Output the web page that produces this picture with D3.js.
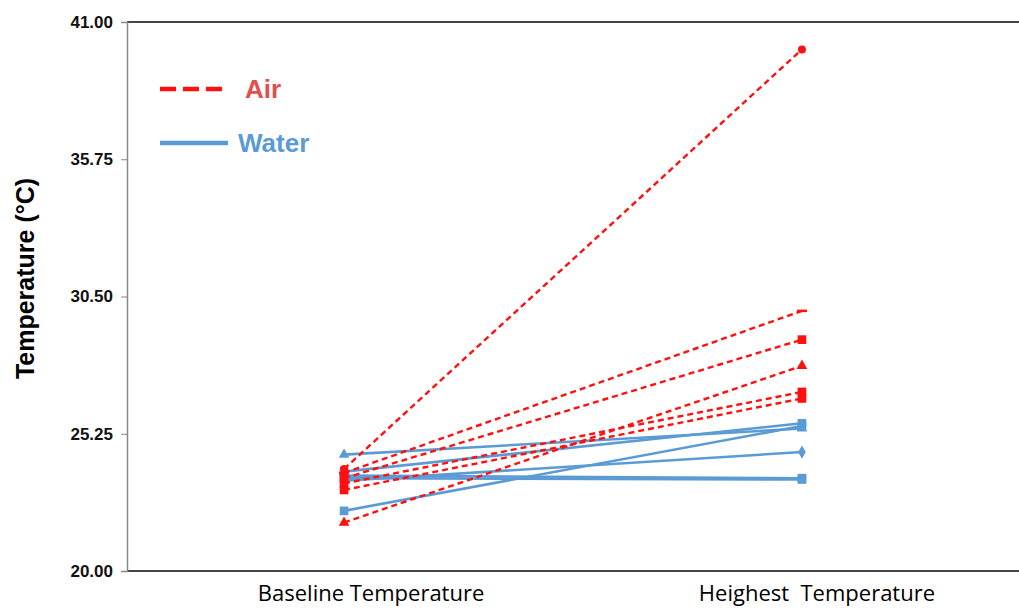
<!DOCTYPE html>
<html>
<head>
<meta charset="utf-8">
<script src="https://cdn.jsdelivr.net/npm/d3@7"></script>
<style>
  body { margin: 0; background: #fff; }
  text { white-space: pre; }
</style>
</head>
<body>
<script>
// categories and values
var categories = ["Baseline Temperature", "Heighest  Temperature"];
var yTicks = [20.00, 25.25, 30.50, 35.75, 41.00];

var airBaseline = [23.9, 23.75, 23.55, 21.85, 23.35, 23.1];
var airHighest  = [39.95, 29.95, 28.85, 27.85, 26.85, 26.6];

var waterBaseline = [24.45, 22.3, 23.45, 23.65, 23.8, 23.55];
var waterHighest  = [25.45, 25.55, 24.55, 23.55, 25.65, 23.5];

// marker shape for each series
var airSymbols   = [d3.symbolCircle, null, d3.symbolSquare, d3.symbolTriangle, d3.symbolSquare, d3.symbolSquare];
var waterSymbols = [d3.symbolTriangle, d3.symbolSquare, d3.symbolDiamond, d3.symbolSquare, d3.symbolSquare, d3.symbolSquare];

var red = "#ff1010", blue = "#5b9bd5";

var margin = {top: 22, right: 0, bottom: 38, left: 127},
    width = 1019 - margin.left - margin.right,
    height = 609 - margin.top - margin.bottom;

var x = d3.scalePoint().domain(categories).range([0, width]).padding(0.474);
var y = d3.scaleLinear().domain([20, 41]).range([height, 0]);

var line = d3.line()
    .x(function(d, i) { return x(categories[i]); })
    .y(function(d) { return y(d); });

var svg = d3.select("body").append("svg")
    .attr("width", 1019)
    .attr("height", 609)
  .append("g")
    .attr("transform", "translate(" + margin.left + "," + margin.top + ")");

// frame lines
svg.append("line")
    .attr("x1", 0).attr("x2", width).attr("y1", 0).attr("y2", 0)
    .attr("stroke", "#444").attr("stroke-width", 2);
svg.append("line")
    .attr("x1", 0).attr("x2", width).attr("y1", height).attr("y2", height)
    .attr("stroke", "#444").attr("stroke-width", 2);

// y axis
var yAxis = svg.append("g")
    .call(d3.axisLeft(y).tickValues(yTicks).tickFormat(d3.format(".2f")).tickSize(6));
yAxis.select(".domain").attr("stroke", "#888").attr("stroke-width", 1.5);
yAxis.selectAll(".tick line").attr("stroke", "#888");
yAxis.selectAll(".tick text")
    .attr("x", -14)
    .style("font-family", "Liberation Sans, Arial, sans-serif")
    .style("font-size", "17px")
    .style("font-weight", "bold")
    .attr("fill", "#111");

svg.append("text")
    .attr("transform", "rotate(-90)")
    .attr("x", -(height / 2) + 18)
    .attr("y", -margin.left + 34)
    .style("text-anchor", "middle")
    .style("font-family", "Liberation Sans, Arial, sans-serif")
    .style("font-size", "25px")
    .style("font-weight", "bold")
    .text("Temperature (°C)");

// category labels
var labelShift = [27, 15];
svg.selectAll(".xlab")
    .data(categories)
  .enter().append("text")
    .attr("class", "xlab")
    .attr("x", function(d, i) { return x(d) + labelShift[i]; })
    .attr("y", height + 30)
    .style("text-anchor", "middle")
    .style("font-family", "Open Sans, Noto Sans, sans-serif")
    .style("font-size", "22px")
    .attr("fill", "#000")
    .text(function(d) { return d; });

function drawSeries(base, high, symbols, color, dashed) {
  base.forEach(function(b, i) {
    var vals = [b, high[i]];
    svg.append("path")
        .attr("d", line(vals))
        .attr("fill", "none")
        .attr("stroke", color)
        .attr("stroke-width", dashed ? 2.4 : 2.6)
        .attr("stroke-dasharray", dashed ? "6,4" : null);
    vals.forEach(function(v, j) {
      if (symbols[i] == null) {
        svg.append("line")
            .attr("x1", x(categories[j]) - 5).attr("x2", x(categories[j]) + 5)
            .attr("y1", y(v)).attr("y2", y(v))
            .attr("stroke", color).attr("stroke-width", 2.5);
      } else {
        svg.append("path")
            .attr("transform", "translate(" + x(categories[j]) + "," + y(v) + ")")
            .attr("d", d3.symbol().type(symbols[i]).size(symbols[i] === d3.symbolSquare ? 75 : 50)())
            .attr("fill", color);
      }
    });
  });
}

drawSeries(waterBaseline, waterHighest, waterSymbols, blue, false);
drawSeries(airBaseline, airHighest, airSymbols, red, true);

// legend
var legend = svg.append("g").attr("transform", "translate(" + (160 - margin.left) + "," + (89 - margin.top) + ")");
legend.append("line")
    .attr("x1", 0).attr("x2", 62).attr("y1", 0).attr("y2", 0)
    .attr("stroke", red).attr("stroke-width", 4.5).attr("stroke-dasharray", "16,7");
legend.append("text")
    .attr("x", 85).attr("y", 9)
    .style("font-family", "Liberation Sans, Arial, sans-serif")
    .style("font-size", "26px").style("font-weight", "bold")
    .attr("fill", "#e0504c")
    .text("Air");
legend.append("line")
    .attr("x1", 0).attr("x2", 68).attr("y1", 54).attr("y2", 54)
    .attr("stroke", blue).attr("stroke-width", 4.5);
legend.append("text")
    .attr("x", 78).attr("y", 63)
    .style("font-family", "Liberation Sans, Arial, sans-serif")
    .style("font-size", "26px").style("font-weight", "bold")
    .attr("fill", blue)
    .text("Water");
</script>
</body>
</html>
